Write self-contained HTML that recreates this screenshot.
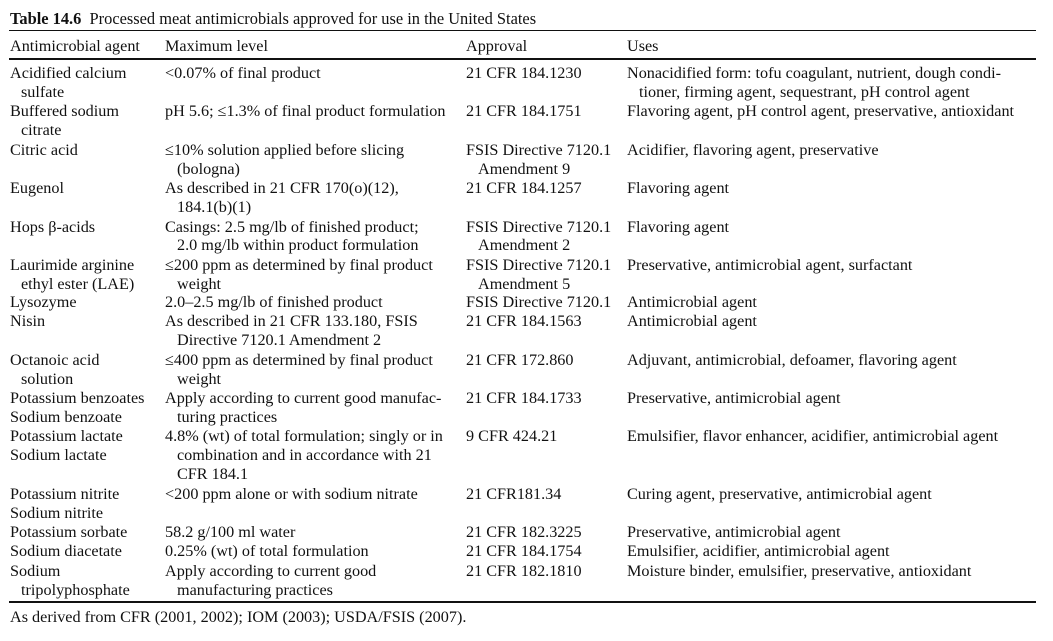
<!DOCTYPE html>
<html><head><meta charset="utf-8"><style>
body{margin:0;width:1053px;height:641px;background:#fff;position:relative;overflow:hidden;font-family:"Liberation Serif",serif;font-size:16.2px;color:#111}
.t{position:absolute;white-space:nowrap;line-height:18px}
.l{position:absolute;left:9px;width:1027px;background:#111}
</style></head><body>
<div class="t" style="left:10px;top:10px;font-size:16.4px"><b>Table 14.6</b>&nbsp;&nbsp;Processed meat antimicrobials approved for use in the United States</div>
<div class="l" style="top:30px;height:1px"></div>
<div class="t" style="left:10px;top:37px">Antimicrobial agent</div>
<div class="t" style="left:165px;top:37px">Maximum level</div>
<div class="t" style="left:466px;top:37px">Approval</div>
<div class="t" style="left:627px;top:37px">Uses</div>
<div class="l" style="top:58px;height:2px"></div>

<div class="t" style="left:10px;top:64px">Acidified calcium</div>
<div class="t" style="left:21px;top:83px">sulfate</div>
<div class="t" style="left:165px;top:64px">&lt;0.07% of final product</div>
<div class="t" style="left:466px;top:64px">21 CFR 184.1230</div>
<div class="t" style="left:627px;top:64px">Nonacidified form: tofu coagulant, nutrient, dough condi-</div>
<div class="t" style="left:639px;top:83px">tioner, firming agent, sequestrant, pH control agent</div>

<div class="t" style="left:10px;top:102px">Buffered sodium</div>
<div class="t" style="left:21px;top:121px">citrate</div>
<div class="t" style="left:165px;top:102px">pH 5.6; ≤1.3% of final product formulation</div>
<div class="t" style="left:466px;top:102px">21 CFR 184.1751</div>
<div class="t" style="left:627px;top:102px">Flavoring agent, pH control agent, preservative, antioxidant</div>

<div class="t" style="left:10px;top:141px">Citric acid</div>
<div class="t" style="left:165px;top:141px">≤10% solution applied before slicing</div>
<div class="t" style="left:177px;top:160px">(bologna)</div>
<div class="t" style="left:466px;top:141px">FSIS Directive 7120.1</div>
<div class="t" style="left:478px;top:160px">Amendment 9</div>
<div class="t" style="left:627px;top:141px">Acidifier, flavoring agent, preservative</div>

<div class="t" style="left:10px;top:179px">Eugenol</div>
<div class="t" style="left:165px;top:179px">As described in 21 CFR 170(o)(12),</div>
<div class="t" style="left:177px;top:198px">184.1(b)(1)</div>
<div class="t" style="left:466px;top:179px">21 CFR 184.1257</div>
<div class="t" style="left:627px;top:179px">Flavoring agent</div>

<div class="t" style="left:10px;top:218px">Hops β-acids</div>
<div class="t" style="left:165px;top:218px">Casings: 2.5 mg/lb of finished product;</div>
<div class="t" style="left:177px;top:236px">2.0 mg/lb within product formulation</div>
<div class="t" style="left:466px;top:218px">FSIS Directive 7120.1</div>
<div class="t" style="left:478px;top:236px">Amendment 2</div>
<div class="t" style="left:627px;top:218px">Flavoring agent</div>

<div class="t" style="left:10px;top:256px">Laurimide arginine</div>
<div class="t" style="left:21px;top:275px">ethyl ester (LAE)</div>
<div class="t" style="left:165px;top:256px">≤200 ppm as determined by final product</div>
<div class="t" style="left:177px;top:275px">weight</div>
<div class="t" style="left:466px;top:256px">FSIS Directive 7120.1</div>
<div class="t" style="left:478px;top:275px">Amendment 5</div>
<div class="t" style="left:627px;top:256px">Preservative, antimicrobial agent, surfactant</div>

<div class="t" style="left:10px;top:293px">Lysozyme</div>
<div class="t" style="left:165px;top:293px">2.0–2.5 mg/lb of finished product</div>
<div class="t" style="left:466px;top:293px">FSIS Directive 7120.1</div>
<div class="t" style="left:627px;top:293px">Antimicrobial agent</div>

<div class="t" style="left:10px;top:312px">Nisin</div>
<div class="t" style="left:165px;top:312px">As described in 21 CFR 133.180, FSIS</div>
<div class="t" style="left:177px;top:331px">Directive 7120.1 Amendment 2</div>
<div class="t" style="left:466px;top:312px">21 CFR 184.1563</div>
<div class="t" style="left:627px;top:312px">Antimicrobial agent</div>

<div class="t" style="left:10px;top:351px">Octanoic acid</div>
<div class="t" style="left:21px;top:370px">solution</div>
<div class="t" style="left:165px;top:351px">≤400 ppm as determined by final product</div>
<div class="t" style="left:177px;top:370px">weight</div>
<div class="t" style="left:466px;top:351px">21 CFR 172.860</div>
<div class="t" style="left:627px;top:351px">Adjuvant, antimicrobial, defoamer, flavoring agent</div>

<div class="t" style="left:10px;top:389px">Potassium benzoates</div>
<div class="t" style="left:10px;top:408px">Sodium benzoate</div>
<div class="t" style="left:165px;top:389px">Apply according to current good manufac-</div>
<div class="t" style="left:177px;top:408px">turing practices</div>
<div class="t" style="left:466px;top:389px">21 CFR 184.1733</div>
<div class="t" style="left:627px;top:389px">Preservative, antimicrobial agent</div>

<div class="t" style="left:10px;top:427px">Potassium lactate</div>
<div class="t" style="left:10px;top:446px">Sodium lactate</div>
<div class="t" style="left:165px;top:427px">4.8% (wt) of total formulation; singly or in</div>
<div class="t" style="left:177px;top:446px">combination and in accordance with 21</div>
<div class="t" style="left:177px;top:465px">CFR 184.1</div>
<div class="t" style="left:466px;top:427px">9 CFR 424.21</div>
<div class="t" style="left:627px;top:427px">Emulsifier, flavor enhancer, acidifier, antimicrobial agent</div>

<div class="t" style="left:10px;top:485px">Potassium nitrite</div>
<div class="t" style="left:10px;top:504px">Sodium nitrite</div>
<div class="t" style="left:165px;top:485px">&lt;200 ppm alone or with sodium nitrate</div>
<div class="t" style="left:466px;top:485px">21 CFR181.34</div>
<div class="t" style="left:627px;top:485px">Curing agent, preservative, antimicrobial agent</div>

<div class="t" style="left:10px;top:523px">Potassium sorbate</div>
<div class="t" style="left:165px;top:523px">58.2 g/100 ml water</div>
<div class="t" style="left:466px;top:523px">21 CFR 182.3225</div>
<div class="t" style="left:627px;top:523px">Preservative, antimicrobial agent</div>

<div class="t" style="left:10px;top:542px">Sodium diacetate</div>
<div class="t" style="left:165px;top:542px">0.25% (wt) of total formulation</div>
<div class="t" style="left:466px;top:542px">21 CFR 184.1754</div>
<div class="t" style="left:627px;top:542px">Emulsifier, acidifier, antimicrobial agent</div>

<div class="t" style="left:10px;top:562px">Sodium</div>
<div class="t" style="left:21px;top:581px">tripolyphosphate</div>
<div class="t" style="left:165px;top:562px">Apply according to current good</div>
<div class="t" style="left:177px;top:581px">manufacturing practices</div>
<div class="t" style="left:466px;top:562px">21 CFR 182.1810</div>
<div class="t" style="left:627px;top:562px">Moisture binder, emulsifier, preservative, antioxidant</div>

<div class="l" style="top:601px;height:2px"></div>
<div class="t" style="left:10px;top:608px">As derived from CFR (2001, 2002); IOM (2003); USDA/FSIS (2007).</div>
</body></html>
